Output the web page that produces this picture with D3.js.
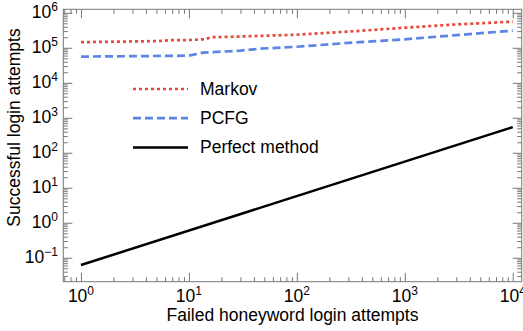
<!DOCTYPE html>
<html>
<head>
<meta charset="utf-8">
<script src="https://cdn.jsdelivr.net/npm/d3@7"></script>
<style>
  body { margin: 0; background: #fff; }
  text { font-family: "Liberation Sans", Arial, sans-serif; fill: #000; }
</style>
</head>
<body>
<svg id="chart" width="523" height="331"></svg>
<script>
// values
const markovX = [1, 5, 7, 10, 14, 16, 30, 100, 300, 1000, 3000, 10000];
const markovY = [1.45e5, 1.55e5, 1.65e5, 1.67e5, 1.75e5, 2.0e5, 2.1e5, 2.37e5, 2.9e5, 3.75e5, 4.65e5, 5.6e5];
const pcfgX = [1, 10, 13.5, 30, 45, 100, 300, 1000, 3000, 10000];
const pcfgY = [5.6e4, 5.95e4, 7.25e4, 8.3e4, 9.4e4, 1.07e5, 1.38e5, 1.75e5, 2.3e5, 3.08e5];
const perfectX = [1, 10000];
const perfectY = [0.062, 540];

const seriesNames = ["Markov", "PCFG", "Perfect method"];
const xTickExp = [0, 1, 2, 3, 4];
const yTickExp = [-1, 0, 1, 2, 3, 4, 5, 6];

const svg = d3.select("#chart");
const plotL = 63.3, plotR = 521.7, plotT = 9.3, plotB = 281.7;

const x = d3.scaleLog().domain([0.686, 12100]).range([plotL, plotR]);
const y = d3.scaleLog().domain([0.0207, 1.259e6]).range([plotB, plotT]);

function minorTicks(scale, lo, hi) {
  const out = [];
  const [d0, d1] = scale.domain();
  for (let e = lo; e <= hi; e++) {
    for (let m = 2; m <= 9; m++) {
      const v = m * Math.pow(10, e);
      if (v > d0 && v < d1) out.push(v);
    }
  }
  return out;
}

const xMajor = xTickExp.map(e => Math.pow(10, e));
const yMajor = yTickExp.map(e => Math.pow(10, e));
const xMinor = minorTicks(x, -1, 4);
const yMinor = minorTicks(y, -2, 6);

const tickColor = "#777";

function drawAxis(axisFn, scale, transform, values, size) {
  const g = svg.append("g")
    .attr("transform", transform)
    .call(axisFn(scale).tickValues(values).tickSize(-size).tickFormat(""));
  g.select(".domain").remove();
  g.selectAll("line").attr("stroke", tickColor).attr("stroke-width", 1);
}

[[xMajor, 9], [xMinor, 4.5]].forEach(([vals, s]) => {
  drawAxis(d3.axisBottom, x, `translate(0,${plotB})`, vals, s);
  drawAxis(d3.axisTop, x, `translate(0,${plotT})`, vals, s);
});
[[yMajor, 9], [yMinor, 4.5]].forEach(([vals, s]) => {
  drawAxis(d3.axisLeft, y, `translate(${plotL},0)`, vals, s);
  drawAxis(d3.axisRight, y, `translate(${plotR},0)`, vals, s);
});

svg.append("rect")
  .attr("x", plotL).attr("y", plotT)
  .attr("width", plotR - plotL).attr("height", plotB - plotT)
  .attr("fill", "none").attr("stroke", tickColor).attr("stroke-width", 1);

// tick labels
const fmtExp = e => (e < 0 ? "\u2212" + Math.abs(e) : String(e));

const xl = svg.append("g").selectAll("text").data(xTickExp).enter().append("text")
  .attr("x", e => x(Math.pow(10, e)))
  .attr("y", 301.5)
  .attr("text-anchor", "middle")
  .style("font-size", "17.5px");
xl.append("tspan").text("10");
xl.append("tspan").attr("dy", -7).style("font-size", "12px").text(e => fmtExp(e));

const yl = svg.append("g").selectAll("text").data(yTickExp).enter().append("text")
  .attr("x", 58)
  .attr("y", e => y(Math.pow(10, e)) + 5.5)
  .attr("text-anchor", "end")
  .style("font-size", "17.5px");
yl.append("tspan").text("10");
yl.append("tspan").attr("dy", -7).style("font-size", "12px").text(e => fmtExp(e));

// axis titles
svg.append("text")
  .attr("x", (plotL + plotR) / 2).attr("y", 321)
  .attr("text-anchor", "middle")
  .style("font-size", "17.5px")
  .text("Failed honeyword login attempts");

svg.append("text")
  .attr("transform", "translate(19.5,127.5) rotate(-90)")
  .attr("text-anchor", "middle")
  .style("font-size", "17.5px")
  .text("Successful login attempts");

// series
const series = [
  { name: seriesNames[0], xs: markovX, ys: markovY, color: "#e8483b", dash: "3,3", width: 2.7 },
  { name: seriesNames[1], xs: pcfgX, ys: pcfgY, color: "#5b86e6", dash: "8,4", width: 2.7 },
  { name: seriesNames[2], xs: perfectX, ys: perfectY, color: "#000", dash: null, width: 2.5 }
];

const line = d3.line().x(d => x(d[0])).y(d => y(d[1]));

series.forEach(s => {
  svg.append("path")
    .datum(s.xs.map((v, i) => [v, s.ys[i]]))
    .attr("d", line)
    .attr("fill", "none")
    .attr("stroke", s.color)
    .attr("stroke-width", s.width)
    .attr("stroke-dasharray", s.dash);
});

// legend
const legend = svg.append("g");
series.forEach((s, i) => {
  const ly = 89 + i * 29.2;
  legend.append("line")
    .attr("x1", 133).attr("x2", 188)
    .attr("y1", ly).attr("y2", ly)
    .attr("stroke", s.color)
    .attr("stroke-width", s.width)
    .attr("stroke-dasharray", s.dash);
  legend.append("text")
    .attr("x", 200).attr("y", ly + 6)
    .style("font-size", "17.5px")
    .text(s.name);
});
</script>
</body>
</html>
